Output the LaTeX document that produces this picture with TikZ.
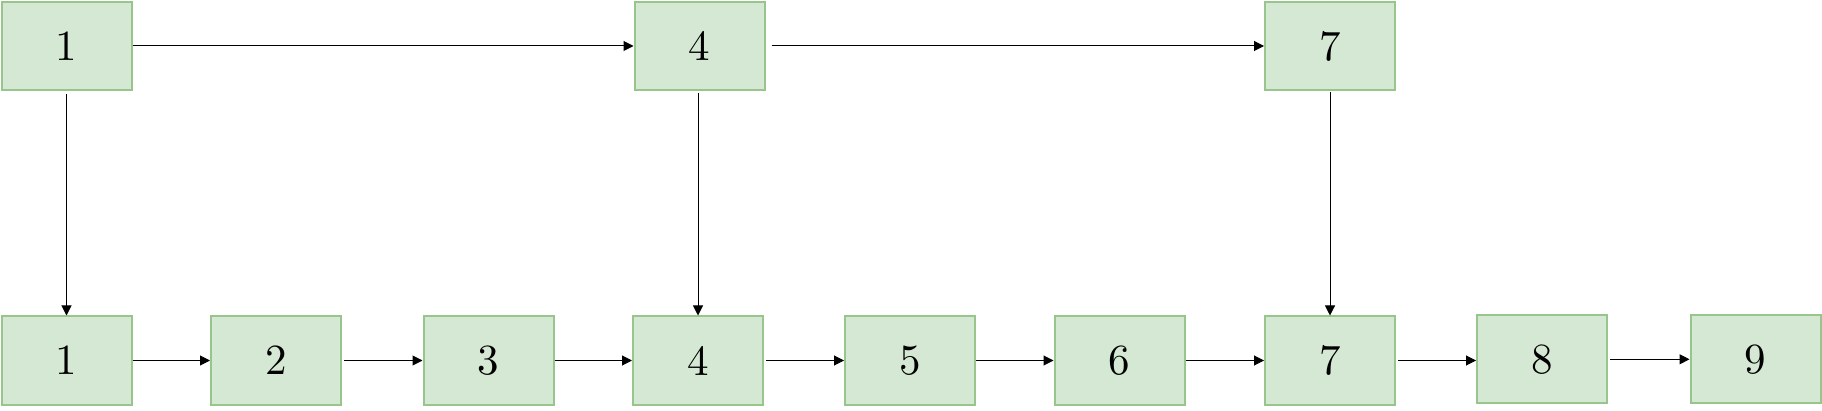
\documentclass[tikz,border=0pt]{standalone}
\usepackage{fontspec}
\newfontfamily\digfont{lmroman10-regular.otf}
\usetikzlibrary{arrows.meta}
\definecolor{boxfill}{HTML}{D5E8D4}
\definecolor{boxdraw}{HTML}{97C58C}
\begin{document}
\begin{tikzpicture}[x=1pt,y=-1pt,
  box/.style={draw=boxdraw,fill=boxfill,line width=2pt,minimum width=130pt,minimum height=88pt,inner sep=0pt,font=\digfont\fontsize{43}{45}\selectfont},
  conn/.style={line width=1pt,-{Triangle[length=10pt,width=10pt]}}]
\useasboundingbox (0,0) rectangle (1822,411);
\node[box] (T1) at (66.5,46) {1};
\node[box] (T4) at (699.5,46) {4};
\node[box] (T7) at (1330,46) {7};
\node[box] (B1) at (66.5,360.5) {1};
\node[box] (B2) at (276,360.5) {2};
\node[box] (B3) at (488.5,360.5) {3};
\node[box] (B4) at (698,360.5) {4};
\node[box] (B5) at (910,360.5) {5};
\node[box] (B6) at (1119.5,360.5) {6};
\node[box] (B7) at (1330,360.5) {7};
\node[box] (B8) at (1542,359.3) {8};
\node[box] (B9) at (1755.5,359.3) {9};
\draw[conn] (T1.east) -- (T4.west);
\draw[conn,shorten <=6pt] (T4.east) -- (T7.west);
\draw[conn,shorten <=3pt] (T1.south) -- (B1.north);
\draw[conn,shorten <=2pt] (T4.south -| B4.north) -- (B4.north);
\draw[conn,shorten <=1pt] (T7.south) -- (B7.north);
\draw[conn] (B1.east) -- (B2.west);
\draw[conn,shorten <=2pt] (B2.east) -- (B3.west);
\draw[conn] (B3.east) -- (B4.west);
\draw[conn,shorten <=2pt] (B4.east) -- (B5.west);
\draw[conn] (B5.east) -- (B6.west);
\draw[conn] (B6.east) -- (B7.west);
\draw[conn,shorten <=2pt] (B7.east) -- (B8.west |- B7.east) ;
\draw[conn,shorten <=2pt] (B8.east) -- (B9.west);
\end{tikzpicture}
\end{document}
